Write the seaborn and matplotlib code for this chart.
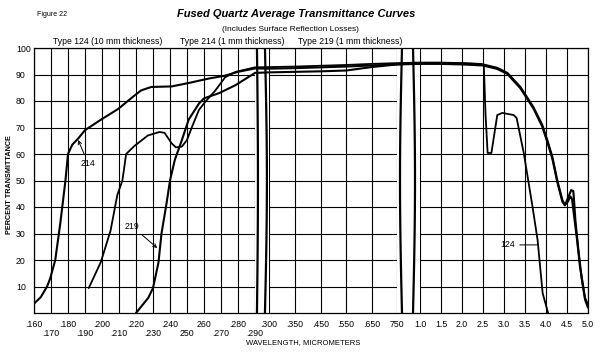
import numpy as np
import pandas as pd
import matplotlib
matplotlib.use("Agg")
import matplotlib.pyplot as plt
import seaborn as sns

sns.set_theme(style="white")
plt.rcParams['font.family'] = ['Liberation Sans', 'DejaVu Sans']
plt.rcParams['text.color'] = 'black'
plt.rcParams['xtick.color'] = 'black'
plt.rcParams['ytick.color'] = 'black'

# ------------------------------------------------
# DATA (wavelength in micrometers, percent transmittance)
# ------------------------------------------------
wl_214 = [0.160, 0.164, 0.1677, 0.1695, 0.1725, 0.1755, 0.1785, 0.180, 0.1825, 0.1862,
          0.190, 0.1995, 0.2095, 0.219, 0.223, 0.229, 0.241, 0.251, 0.263, 0.272,
          0.280, 0.290, 0.300, 0.350, 0.450, 0.550, 0.650, 0.750,
          1.0, 1.5, 2.0, 2.5, 2.84, 3.08, 3.39, 3.70, 3.91, 4.03, 4.15, 4.27,
          4.39, 4.45, 4.52, 4.58, 4.62, 4.65, 4.74, 4.81, 4.93, 5.0]
t_214 = [3.5, 6, 10, 13, 20, 34, 50, 60, 63.5, 66,
         69, 73, 77, 82, 84, 85.3, 85.5, 86.8, 88.5, 89.5,
         91, 92.3, 92.2, 92.4, 92.7, 93.0, 93.4, 93.8,
         94.3, 94.3, 94.2, 93.8, 92.5, 90.6, 85.3, 77.7, 71, 65.3, 59, 50,
         42.6, 40.8, 42, 44, 43, 39, 27.5, 17.4, 5.7, 3]

wl_124 = [0.1922, 0.1993, 0.205, 0.209, 0.212, 0.2142, 0.219, 0.227, 0.2338, 0.2368,
          0.241, 0.2435, 0.247, 0.250, 0.2528, 0.257, 0.2606, 0.2667, 0.2725, 0.2786,
          0.290, 0.300, 0.350, 0.450, 0.550, 0.650, 0.750,
          1.0, 1.5, 2.0, 2.45, 2.52, 2.56, 2.61, 2.70, 2.84, 2.96, 3.23, 3.30,
          3.47, 3.68, 3.80, 3.92, 4.05]
t_124 = [9.4, 19.2, 31, 44.5, 50, 60, 63, 67, 68.3, 68,
         64, 62.5, 62.8, 65.3, 70, 76.6, 79.6, 84, 89, 91,
         92.7, 92.8, 93.0, 93.3, 93.6, 94.0, 94.3,
         94.5, 94.5, 94.3, 94.0, 93.5, 75, 60.4, 60.4, 74.7, 75.5, 74.7, 73.6,
         60.4, 40, 27.5, 7.5, 0]

wl_219 = [0.220, 0.2272, 0.230, 0.2332, 0.235, 0.238, 0.240, 0.2428, 0.247, 0.251,
          0.257, 0.260, 0.269, 0.2786, 0.290, 0.300, 0.350, 0.450, 0.550, 0.650, 0.750,
          1.0, 1.5, 2.0, 2.5, 2.84, 3.08, 3.39, 3.70, 3.91, 4.03, 4.15, 4.27,
          4.39, 4.45, 4.55, 4.60, 4.65, 4.67, 4.70, 4.77, 4.85, 4.93, 5.0]
t_219 = [0, 5.7, 9.4, 19, 30, 41.5, 50, 57.7, 65.3, 73,
         79, 81, 83, 86, 90.6, 90.8, 91.0, 91.2, 91.5, 92.8, 93.8,
         94.0, 94.0, 93.8, 93.4, 92.1, 90.2, 84.8, 77.2, 70.4, 64.6, 58.3, 49.3,
         42, 40.6, 44.5, 46.4, 46.0, 42, 35, 24, 13, 5, 2]

# tick labels: upper row and (staggered) lower row
x_ticks_top = [0.160, 0.180, 0.200, 0.220, 0.240, 0.260, 0.280, 0.300, 0.350,
               0.450, 0.550, 0.650, 0.750, 1.0, 1.5, 2.0, 2.5, 3.0, 3.5, 4.0,
               4.5, 5.0]
x_labels_top = [".160", ".180", ".200", ".220", ".240", "260", ".280", ".300", ".350",
                ".450", ".550", ".650", "750", "1.0", "1.5", "2.0", "2.5", "3.0",
                "3.5", "4.0", "4.5", "5.0"]
x_ticks_low = [0.170, 0.190, 0.210, 0.230, 0.250, 0.270, 0.290]
x_labels_low = [".170", ".190", ".210", ".230", "250", ".270", ".290"]
y_ticks = [10, 20, 30, 40, 50, 60, 70, 80, 90, 100]

df_214 = pd.DataFrame({"wavelength": wl_214, "transmittance": t_214})
df_124 = pd.DataFrame({"wavelength": wl_124, "transmittance": t_124})
df_219 = pd.DataFrame({"wavelength": wl_219, "transmittance": t_219})

# ------------------------------------------------
# BROKEN WAVELENGTH SCALE (piecewise linear)
# ------------------------------------------------
knot_wl = np.array([0.16, 0.29, 0.30, 0.35, 0.75, 1.0, 5.0])
knot_px = np.array([34.0, 255.0, 269.0, 295.0, 397.0, 420.0, 588.0])


def fwd(x):
    return np.interp(x, knot_wl, knot_px)


def inv(p):
    return np.interp(p, knot_px, knot_wl)


fig = plt.figure(figsize=(6, 3.56), dpi=100)
ax = fig.add_axes([34 / 600, 1 - 313 / 356, 554 / 600, 265 / 356])
ax.set_xscale("function", functions=(fwd, inv))
ax.set_xlim(0.16, 5.0)
ax.set_ylim(0, 100)

ax.set_axisbelow(True)
ax.grid(True, which="both", color="black", linewidth=0.8)

# hide the grid inside the two breaks
ax.axvspan(0.2903, 0.2997, color="white", zorder=1, linewidth=0)
ax.axvspan(0.752, 0.998, color="white", zorder=1, linewidth=0)

for d, lw in ((df_214, 1.5), (df_124, 1.3), (df_219, 1.5)):
    sns.lineplot(data=d, x="wavelength", y="transmittance", ax=ax, color="black",
                 linewidth=lw, estimator=None, sort=False, zorder=3)

# break marks
yy = np.linspace(0, 100, 50)
ax.plot(0.2914 + 0.0007 * np.sin(np.pi * yy / 100), yy, color="black", lw=1.6, zorder=4)
ax.plot(0.2971 + 0.0014 * np.sin(np.pi * yy / 100), yy, color="black", lw=1.6, zorder=4)
ax.plot(0.8043 - 0.0217 * np.sin(np.pi * yy / 100), yy, color="black", lw=1.6, zorder=4)
ax.plot(0.9239 + 0.0217 * np.sin(np.pi * yy / 100), yy, color="black", lw=1.6, zorder=4)

ax.set_xticks(x_ticks_top)
ax.set_xticklabels(x_labels_top, fontsize=6.3)
ax.set_xticks(x_ticks_low, minor=True)
ax.set_xticklabels(x_labels_low, minor=True, fontsize=6.3)
ax.set_yticks(y_ticks)
ax.set_yticklabels([str(v) for v in y_ticks], fontsize=6.3, ha="left")
ax.tick_params(axis="x", which="major", length=0, pad=5)
ax.tick_params(axis="x", which="minor", length=0, pad=11.2)
ax.tick_params(axis="y", length=0, pad=13)
ax.set_xlabel("")
ax.set_ylabel("")
for s in ax.spines.values():
    s.set_color("black")
    s.set_linewidth(0.9)

# curve labels
arrow = dict(arrowstyle="->", color="black", lw=0.7, shrinkA=1, shrinkB=0)
ax.annotate("214", xy=(0.1859, 65.3), xytext=(0.1918, 56.6), fontsize=6.3,
            ha="center", va="center", arrowprops=arrow)
ax.annotate("219", xy=(0.2325, 24.5), xytext=(0.2176, 32.8), fontsize=6.3,
            ha="center", va="center", arrowprops=arrow)
ax.annotate("124", xy=(3.79, 25.7), xytext=(3.09, 25.7), fontsize=6.3,
            ha="center", va="center",
            arrowprops=dict(arrowstyle="-", color="black", lw=0.7, shrinkA=1, shrinkB=0))

# titles and axis texts
fig.text(37 / 600, 1 - 15 / 356, "Figure 22", fontsize=5, va="center")
fig.text(296 / 600, 1 - 14 / 356, "Fused Quartz Average Transmittance Curves",
         fontsize=8, fontweight="bold", fontstyle="italic", ha="center", va="center")
fig.text(290 / 600, 1 - 29.5 / 356, "(Includes Surface Reflection Losses)",
         fontsize=6, ha="center", va="center")
fig.text(53 / 600, 1 - 41.5 / 356, "Type 124 (10 mm thickness)", fontsize=6.2, va="center")
fig.text(180 / 600, 1 - 41.5 / 356, "Type 214 (1 mm thickness)", fontsize=6.2, va="center")
fig.text(298 / 600, 1 - 41.5 / 356, "Type 219 (1 mm thickness)", fontsize=6.2, va="center")
fig.text(303 / 600, 1 - 343 / 356, "WAVELENGTH, MICROMETERS", fontsize=5.5,
         ha="center", va="center")
fig.text(10 / 600, 1 - 185 / 356, "PERCENT TRANSMITTANCE", fontsize=5.2,
         fontweight="bold", rotation=90, ha="center", va="center")

fig.savefig("out.png", dpi=100)
